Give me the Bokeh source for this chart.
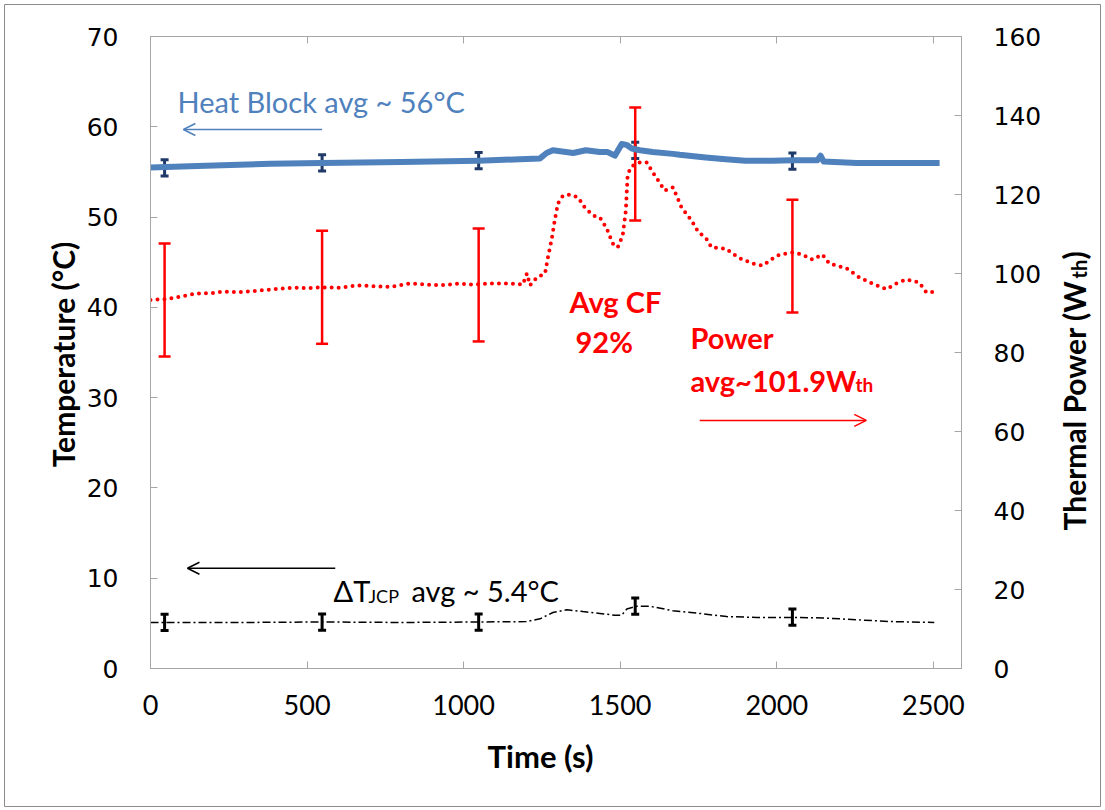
from math import pi
from bokeh.plotting import figure
from bokeh.models import (LinearAxis, Range1d, SingleIntervalTicker, Label, Arrow,
                          OpenHead, Whisker, TeeHead, ColumnDataSource, CustomJSTickFormatter)
from bokeh.core.properties import value
from bokeh.embed import file_html
from bokeh.resources import INLINE

# ---------------- data ----------------
hb_time = [0, 150, 383, 548, 800, 1048, 1180, 1244, 1265, 1285, 1350, 1390, 1435, 1460,
           1483, 1505, 1520, 1537, 1563, 1604, 1668, 1690, 1773, 1837, 1900, 1987, 2050,
           2130, 2140, 2150, 2255, 2414, 2520]
hb_temp = [55.5, 55.65, 55.9, 56.0, 56.1, 56.25, 56.4, 56.5, 57.1, 57.4, 57.1, 57.4, 57.2, 57.2,
           56.8, 58.1, 58.0, 57.6, 57.4, 57.2, 57.0, 56.9, 56.6, 56.4, 56.25, 56.25, 56.3,
           56.3, 56.8, 56.15, 56.0, 56.0, 56.0]

pw_time = [0, 48, 100, 143, 190, 230, 280, 319, 392, 456, 500, 548, 606, 660, 710, 765, 829,
           880, 925, 980, 1030, 1090, 1138, 1189, 1202, 1212, 1234, 1260, 1269, 1282, 1290,
           1301, 1317, 1339, 1365, 1387, 1413, 1435, 1457, 1476, 1492, 1508, 1518, 1524, 1540,
           1563, 1585, 1604, 1626, 1642, 1668, 1680, 1696, 1728, 1750, 1773, 1792, 1837, 1878,
           1923, 1955, 1987, 2009, 2050, 2082, 2114, 2146, 2168, 2223, 2264, 2305, 2350, 2382,
           2414, 2455, 2478, 2503]
pw_watt = [93.3, 93.5, 94.2, 94.9, 95.0, 95.4, 95.3, 95.5, 96.0, 96.4, 96.3, 96.5, 96.4, 97.0,
           96.8, 96.6, 97.5, 97.2, 97.0, 97.4, 97.2, 97.5, 97.5, 97.2, 100.0, 97.0, 99.0, 100.0,
           104.0, 109.0, 113.0, 117.7, 119.7, 120.0, 119.3, 116.7, 114.7, 114.2, 111.4, 107.6,
           106.6, 109.6, 115.9, 125.3, 127.3, 128.1, 128.1, 125.6, 123.0, 121.0, 121.8, 119.7,
           116.7, 113.4, 110.4, 109.1, 106.6, 106.3, 104.0, 102.5, 102.0, 103.8, 104.8, 105.3,
           104.8, 103.5, 104.8, 102.5, 101.3, 99.0, 97.5, 96.0, 97.5, 98.5, 97.7, 95.2, 95.4]

dt_time = [0, 300, 548, 800, 1048, 1200, 1244, 1285, 1330, 1381, 1435, 1483, 1505, 1521, 1553,
           1594, 1668, 1754, 1840, 1936, 2050, 2146, 2255, 2360, 2503]
dt_temp = [5.1, 5.1, 5.15, 5.1, 5.15, 5.2, 5.5, 6.2, 6.5, 6.3, 6.1, 5.9, 5.9, 6.6, 6.9,
           6.9, 6.4, 6.1, 5.75, 5.65, 5.65, 5.6, 5.4, 5.2, 5.1]

err_time = [45, 548, 1048, 1548, 2050]
hb_err_mid = [55.45, 56.0, 56.25, 57.4, 56.2]
hb_err = 0.9
pw_err_mid = [93.3, 96.5, 97.1, 127.7, 104.4]
pw_err = 14.3
dt_err_mid = [5.1, 5.15, 5.15, 6.9, 5.7]
dt_err = 0.9

x_ticks_step = 500
temp_ticks_step = 10
power_ticks_step = 20
X_MAX, T_MAX, P_MAX = 2590, 70, 160

# ---------------- styling ----------------
BLUE = "#4F81BD"
NAVY = "#1F3A68"
RED = "#FF0000"
GRAY = "#A6A6A6"
CAL = "Lato"
W, H = 1105, 810
FL, FR, FT, FB = 150, 961, 36, 668   # frame edges on the canvas

p = figure(width=W, height=H, output_backend="svg", toolbar_location=None,
           x_range=Range1d(0, X_MAX), y_range=Range1d(0, T_MAX),
           min_border_left=FL, min_border_right=W - FR, min_border_top=FT,
           min_border_bottom=H - FB)
p.extra_y_ranges = {"power": Range1d(0, P_MAX)}
p.xgrid.visible = False
p.ygrid.visible = False
p.outline_line_color = GRAY
p.outline_line_width = 1
p.background_fill_color = "white"
p.border_fill_color = "white"

def style_axis(ax):
    ax.axis_line_color = GRAY
    ax.major_tick_line_color = GRAY
    ax.major_tick_in = 7
    ax.major_tick_out = 0
    ax.minor_tick_line_color = None
    ax.major_label_text_color = "black"

xa = p.xaxis[0]
xa.ticker = SingleIntervalTicker(interval=x_ticks_step)
style_axis(xa)
xa.major_label_text_font = CAL
xa.major_label_text_font_size = "27px"
xa.major_label_standoff = 22

ya = p.yaxis[0]
ya.ticker = SingleIntervalTicker(interval=temp_ticks_step)
style_axis(ya)
ya.major_label_text_font = "DejaVu Sans"
ya.major_label_text_font_size = "25px"
ya.major_label_standoff = 28

ra = LinearAxis(y_range_name="power", ticker=SingleIntervalTicker(interval=power_ticks_step))
style_axis(ra)
ra.major_label_text_font = "DejaVu Sans"
ra.major_label_text_font_size = "25px"
ra.major_label_standoff = 28
p.add_layout(ra, "right")

ta = LinearAxis(ticker=SingleIntervalTicker(interval=x_ticks_step),
                formatter=CustomJSTickFormatter(code="return ''"))
style_axis(ta)
ta.major_label_standoff = 0
p.add_layout(ta, "above")

# ---------------- series ----------------
p.line(dt_time, dt_temp, line_color="black", line_width=1.5, line_dash="8 3 2 3")
p.line(pw_time, pw_watt, y_range_name="power", line_color=RED, line_width=4,
       line_dash="0 7", line_cap="round")
p.line(hb_time, hb_temp, line_color=BLUE, line_width=6, line_join="round")

def whisker(mid, err, color, width, head, rng=None):
    src = ColumnDataSource(dict(t=err_time, lo=[m - err for m in mid], hi=[m + err for m in mid]))
    kw = dict(y_range_name=rng) if rng else {}
    w = Whisker(source=src, base="t", lower="lo", upper="hi", dimension="height",
                line_color=color, line_width=width,
                upper_head=TeeHead(size=head, line_color=color, line_width=width),
                lower_head=TeeHead(size=head, line_color=color, line_width=width), **kw)
    p.add_layout(w)

whisker(dt_err_mid, dt_err, "black", 3, 8)
whisker(hb_err_mid, hb_err, NAVY, 3, 8)
whisker(pw_err_mid, pw_err, RED, 2.5, 12, "power")

# ---------------- annotations inside the frame ----------------
def lab(x, y, text, size, color="black", bold=False):
    p.add_layout(Label(x=x, y=y, x_units="screen", y_units="screen", text=text,
                       text_font=CAL, text_font_size=f"{size}px", text_color=color,
                       text_font_style="bold" if bold else "normal",
                       text_baseline="alphabetic", text_align="left"))

lab(27, 567, "Heat Block avg ~ 56°C", 29, BLUE)
lab(183, 78, "ΔT", 29)
lab(218, 73, "JCP", 18)
lab(261, 78, "avg ~ 5.4°C", 29)
lab(419, 367, "Avg CF", 29, RED, True)
lab(425, 327, "92%", 29, RED, True)
lab(540, 331, "Power", 29, RED, True)
lab(540, 288, "avg~101.9W", 29, RED, True)
lab(705, 284, "th", 19, RED, True)

p.add_layout(Arrow(end=OpenHead(size=12, line_color=BLUE, line_width=1.5),
                   x_start=548, y_start=59.7, x_end=105, y_end=59.7,
                   line_color=BLUE, line_width=1.5))
p.add_layout(Arrow(end=OpenHead(size=12, line_color="black", line_width=1.5),
                   x_start=590, y_start=11.1, x_end=118, y_end=11.1,
                   line_color="black", line_width=1.5))
p.add_layout(Arrow(end=OpenHead(size=12, line_color=RED, line_width=1.5),
                   x_start=1754, y_start=62.8, x_end=2286, y_end=62.8,
                   line_color=RED, line_width=1.5, y_range_name="power"))

# ---------------- axis titles (text glyphs anchored at the origin, unclipped) ----------------
def title(dx, dy, text, size, angle=0.0, align="left"):
    p.text(x=[0], y=[0], text=[text], x_offset=dx, y_offset=dy, angle=angle,
           text_font=value(CAL), text_font_size=f"{size}px", text_font_style="bold",
           text_color="black", text_align=align, text_baseline="alphabetic",
           level="overlay")

title(390, 87, "Time (s)", 31, align="center")
title(-88, -314, "Temperature (°C)", 30, angle=pi / 2, align="center")
title(923, -138, "Thermal Power (W", 30, angle=pi / 2)
title(928, -390, "th", 20, angle=pi / 2)
title(923, -409, ")", 30, angle=pi / 2)

# outer chart border (canvas pixels converted to data units)
def cx(px):
    return (px - FL) * X_MAX / (FR - FL)

def cy(py):
    return (FB - py) * T_MAX / (FB - FT)

p.quad(left=[cx(4)], right=[cx(1100)], top=[cy(4)], bottom=[cy(806)],
       fill_color=None, line_color="#8C8C8C", line_width=1, level="overlay")

open("out.html", "w").write(file_html(p, INLINE))
